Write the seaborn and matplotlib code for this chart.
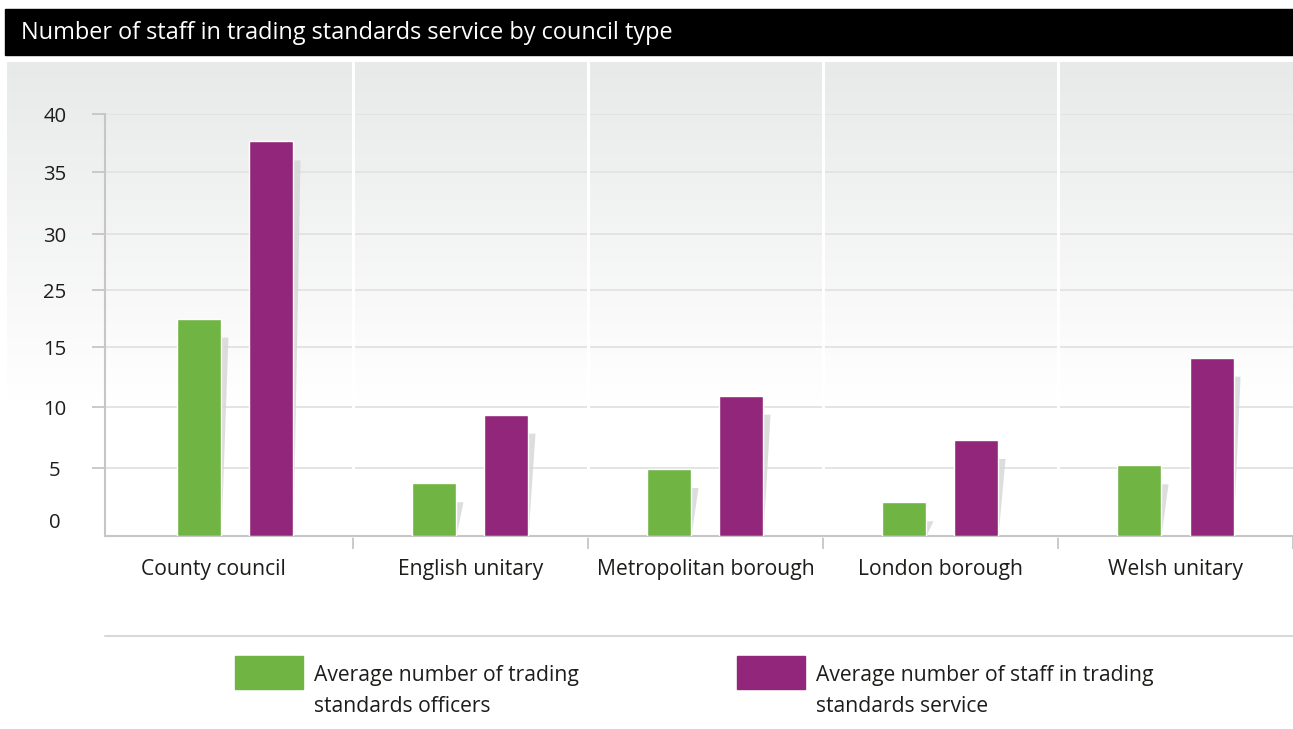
import numpy as np
import pandas as pd
import matplotlib
matplotlib.use("Agg")
import matplotlib.pyplot as plt
import seaborn as sns
from matplotlib.patches import Rectangle, Polygon
from matplotlib.transforms import ScaledTranslation, blended_transform_factory

# ---- data ---------------------------------------------------------------
categories = ["County council", "English unitary", "Metropolitan borough",
              "London borough", "Welsh unitary"]
officers = [20.6, 5.0, 6.35, 3.2, 6.7]
staff = [37.4, 11.5, 13.3, 9.1, 16.9]
series_names = ["Average number of trading\nstandards officers",
                "Average number of staff in trading\nstandards service"]
y_tick_labels = ["0", "5", "10", "15", "25", "30", "35", "40"]
title = "Number of staff in trading standards service by council type"

# gridline heights on the value axis (hand-spaced rules)
grid_levels = [0, 6.4, 12.2, 17.9, 23.3, 28.6, 34.5, 40]

GREEN = "#70b443"
PURPLE = "#92267a"
TEXT = "#1d1d1b"
AXIS_GREY = "#c6c6c6"

df = pd.DataFrame({
    "category": categories * 2,
    "value": officers + staff,
    "series": [series_names[0]] * len(categories) + [series_names[1]] * len(categories),
})

sns.set_theme(style="white")
plt.rcParams["font.family"] = ["Open Sans", "DejaVu Sans"]

W, H = 1293, 729
fig = plt.figure(figsize=(W / 100, H / 100), dpi=100)

# ---- background layer in pixel coordinates ------------------------------
bg = fig.add_axes([0, 0, 1, 1], zorder=-10)
bg.set_xlim(0, W)
bg.set_ylim(H, 0)
bg.axis("off")

rows = np.arange(62, 621)
t = np.clip((rows - 62) / (400 - 62), 0, 1)[:, None, None]
top_col = np.array([232, 233, 233]) / 255
grad = top_col + (1 - top_col) * t
bg.imshow(grad, extent=(7, W, 620, 62), aspect="auto", interpolation="bilinear")

# title bar
bg.add_patch(Rectangle((5, 9), W - 5, 46, color="black"))
bg.text(21, 33, title, color="white", fontsize=16.9, va="center", ha="left")

# ---- main chart --------------------------------------------------------
ax = fig.add_axes([105 / W, 1 - 536 / H, (W - 105) / W, (536 - 114) / H])
ax.patch.set_alpha(0)

sns.barplot(data=df, x="category", y="value", hue="series",
            palette=[GREEN, PURPLE], width=0.613, gap=0.389, saturation=1,
            legend=False, ax=ax, zorder=3)

# soft slanted drop shadows behind each bar
for p in list(ax.patches):
    x, w, h = p.get_x(), p.get_width(), p.get_height()
    xr = x + w
    drop = 1.8
    shadow = Polygon([(xr - w * 0.5, h - drop), (xr + 0.03, h - drop),
                      (xr, 0), (xr - w * 0.5, 0)],
                     closed=True, facecolor="#d6d7d7", edgecolor="none",
                     alpha=0.85, zorder=2.5)
    ax.add_patch(shadow)

ax.set_xlim(-0.555, 4.5)
ax.set_ylim(0, 40)
ax.set_xlabel("")
ax.set_ylabel("")

# y axis
ax.set_yticks(grid_levels)
ax.set_yticklabels(y_tick_labels)
ax.set_axisbelow(True)
ax.yaxis.grid(True, color="#e2e2e2", lw=1.3)
ax.xaxis.grid(False)
ax.tick_params(axis="y", length=9.4, width=1.3, color=AXIS_GREY, pad=26.6,
               labelsize=14.6, labelcolor=TEXT, left=True)
for lab in ax.get_yticklabels():
    lab.set_ha("center")
zero_tick = ax.yaxis.get_major_ticks()[0]
zero_tick.tick1line.set_visible(False)
zero_tick.label1.set_transform(zero_tick.label1.get_transform() +
                               ScaledTranslation(0, 15 / 100, fig.dpi_scale_trans))

# x axis: labels at centres, ticks at group boundaries
ax.set_xticks(range(len(categories)))
ax.set_xticklabels(categories)
ax.set_xticks(np.arange(0.5, len(categories), 1.0), minor=True)
ax.tick_params(axis="x", which="major", length=0, pad=16.5, labelsize=15.2,
               labelcolor=TEXT)
ax.tick_params(axis="x", which="minor", length=9.5, width=1.3,
               color=AXIS_GREY, bottom=True)
first = ax.xaxis.get_major_ticks()[0].label1
first.set_transform(first.get_transform() +
                    ScaledTranslation(-22 / 100, 0, fig.dpi_scale_trans))

for side in ("top", "right"):
    ax.spines[side].set_visible(False)
for side in ("left", "bottom"):
    ax.spines[side].set_color(AXIS_GREY)
    ax.spines[side].set_linewidth(1.5)

# white separators between council types through the shaded panel
sep_tr = blended_transform_factory(ax.transData, ax.transAxes)
for b in np.arange(0.5, len(categories) - 1, 1.0):
    ax.plot([b, b], [0, (536 - 62) / (536 - 114)], transform=sep_tr,
            color="white", lw=2.2, clip_on=False, zorder=1.5)

# ---- legend --------------------------------------------------------------
bg.plot([105, W], [636, 636], color="#d9d9d9", lw=1.5)
for i, (name, col) in enumerate(zip(series_names, [GREEN, PURPLE])):
    x0 = 235 + i * 502
    bg.add_patch(Rectangle((x0, 656), 68, 33, color=col))
    for j, line in enumerate(name.split("\n")):
        bg.text(x0 + 79, 675 + 32 * j, line, fontsize=15.2, color=TEXT,
                va="center", ha="left")

fig.savefig("out.png", dpi=100)
